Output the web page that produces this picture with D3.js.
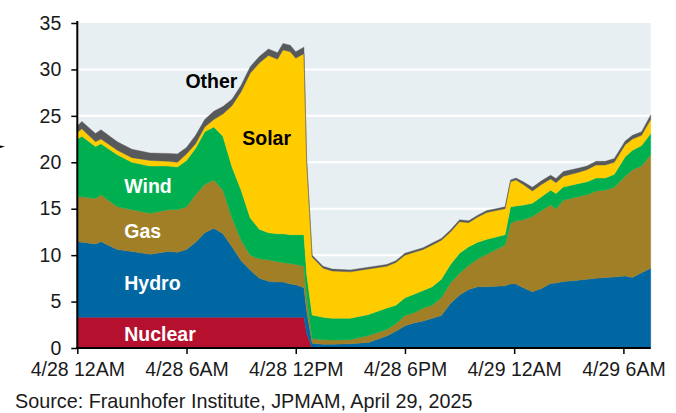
<!DOCTYPE html>
<html>
<head>
<meta charset="utf-8">
<script src="https://cdn.jsdelivr.net/npm/d3@7"></script>
<style>
  html, body { margin: 0; padding: 0; background: #ffffff; }
  svg { display: block; font-family: Arial, "Liberation Sans", sans-serif; }
</style>
</head>
<body>
<svg id="chart" width="676" height="413"></svg>
<script>
// Hours since 4/28 12AM
const hours = [0, 0.25, 1, 1.3, 2.2, 3, 4, 5, 5.5, 6, 6.5, 7, 7.5, 8, 8.5, 9, 9.5, 10, 10.5, 11, 11.3, 11.7, 12, 12.45, 12.6, 12.9, 13.5, 14, 15, 16, 17, 17.5, 18, 18.5, 19, 19.5, 20, 20.5, 21, 21.5, 22, 22.5, 23, 23.5, 23.8, 24.1, 24.5, 25, 25.5, 26, 26.3, 26.7, 27.5, 28, 28.5, 29, 29.5, 30.1, 30.5, 31, 31.5];

// Generation by source (GW)
const nuclear = [3.3, 3.3, 3.3, 3.3, 3.3, 3.3, 3.3, 3.3, 3.3, 3.3, 3.3, 3.3, 3.3, 3.3, 3.3, 3.3, 3.3, 3.3, 3.3, 3.3, 3.3, 3.3, 3.3, 3.3, 1.6, 0, 0, 0, 0, 0, 0, 0, 0, 0, 0, 0, 0, 0, 0, 0, 0, 0, 0, 0, 0, 0, 0, 0, 0, 0, 0, 0, 0, 0, 0, 0, 0, 0, 0, 0, 0];
const hydro = [8.15, 8.1, 7.9, 8.15, 7.3, 7.1, 6.8, 7.1, 7.0, 7.3, 8.1, 9.1, 9.6, 9.0, 7.6, 6.1, 5.1, 4.2, 3.9, 3.8, 3.8, 3.6, 3.5, 3.2, 2.4, 0.5, 0.4, 0.4, 0.45, 0.6, 1.3, 1.8, 2.4, 2.7, 2.9, 3.2, 3.5, 4.8, 5.7, 6.3, 6.6, 6.6, 6.65, 6.7, 6.9, 6.9, 6.5, 6.05, 6.4, 6.95, 7.0, 7.15, 7.3, 7.4, 7.5, 7.6, 7.65, 7.75, 7.6, 8.1, 8.6];
const gas = [4.85, 4.9, 4.9, 5.05, 4.6, 4.5, 4.4, 4.5, 4.6, 4.6, 5.1, 5.2, 5.2, 4.7, 3.1, 2.2, 1.6, 2.1, 2.3, 2.2, 2.1, 2.2, 2.2, 2.3, 1.5, 0.5, 0.5, 0.45, 0.45, 0.75, 0.7, 0.8, 1.1, 1.1, 1.4, 1.4, 1.9, 2.2, 2.35, 2.6, 3.0, 3.5, 3.95, 4.4, 6.5, 6.8, 7.3, 8.1, 8.4, 8.45, 8.0, 8.75, 9.0, 9.1, 9.4, 9.4, 9.65, 10.75, 11.6, 11.5, 12.2];
const wind = [6.2, 6.5, 5.6, 5.5, 5.6, 5.1, 5.1, 4.7, 4.6, 5.0, 5.0, 5.7, 5.7, 5.8, 5.5, 5.4, 4.0, 3.2, 2.9, 3.0, 3.1, 3.1, 3.2, 3.4, 2.5, 2.55, 2.4, 2.35, 2.3, 2.25, 2.3, 2.0, 1.9, 2.0, 1.9, 2.0, 2.0, 2.0, 2.15, 2.0, 1.8, 1.6, 1.35, 1.1, 1.8, 1.6, 1.6, 1.45, 1.5, 1.6, 1.65, 1.45, 1.4, 1.4, 1.4, 1.3, 1.4, 2.1, 2.1, 2.2, 2.3];
const solar = [0.7, 0.8, 0.5, 0.5, 0.5, 0.5, 0.6, 0.5, 0.5, 0.7, 0.5, 0.5, 0.8, 2.4, 6.6, 10.6, 15.6, 17.9, 19.1, 18.8, 19.8, 19.7, 19.0, 19.5, 12.0, 6.25, 5.3, 5.1, 5.0, 4.9, 4.5, 4.6, 4.6, 4.5, 4.4, 4.5, 4.2, 3.5, 3.4, 2.6, 2.7, 2.9, 2.85, 2.8, 2.7, 2.8, 2.2, 1.3, 1.3, 1.2, 1.15, 1.15, 1.2, 1.3, 1.4, 1.4, 1.3, 1.3, 1.2, 1.1, 1.5];
const other = [0.7, 0.8, 0.9, 1.0, 0.9, 0.9, 0.8, 0.85, 0.9, 0.7, 0.9, 0.8, 0.9, 0.8, 0.7, 0.7, 0.7, 0.7, 0.7, 0.7, 0.7, 0.7, 0.7, 0.7, 0.3, 0.2, 0.2, 0.2, 0.2, 0.2, 0.2, 0.2, 0.2, 0.2, 0.2, 0.2, 0.2, 0.2, 0.2, 0.2, 0.2, 0.2, 0.2, 0.2, 0.2, 0.2, 0.3, 0.4, 0.4, 0.4, 0.45, 0.5, 0.45, 0.4, 0.4, 0.4, 0.4, 0.4, 0.4, 0.4, 0.5];

const seriesKeys = ["nuclear", "hydro", "gas", "wind", "solar", "other"];
const seriesNames = ["Nuclear", "Hydro", "Gas", "Wind", "Solar", "Other"];
const seriesColors = ["#b5112f", "#0067a3", "#a07f26", "#00b050", "#ffcc00", "#58595b"];

const xTickValues = [0, 6, 12, 18, 24, 30];
const xTickLabels = ["4/28 12AM", "4/28 6AM", "4/28 12PM", "4/28 6PM", "4/29 12AM", "4/29 6AM"];
const yTickValues = [0, 5, 10, 15, 20, 25, 30, 35];

// Series label anchors in data units [hour, GW]
const labelHours = [2.58, 2.58, 2.58, 2.58, 10.4, 7.37];
const labelValues = [1.5, 6.97, 12.6, 17.4, 22.6, 28.7];
const labelAnchors = ["start", "start", "start", "start", "middle", "middle"];
const labelColors = ["#ffffff", "#ffffff", "#ffffff", "#ffffff", "#000000", "#000000"];

const sourceText = "Source: Fraunhofer Institute, JPMAM, April 29, 2025";

const table = hours.map((h, i) => ({
  h, nuclear: nuclear[i], hydro: hydro[i], gas: gas[i], wind: wind[i], solar: solar[i], other: other[i]
}));

const svg = d3.select("#chart");
const x = d3.scaleLinear().domain([0, 31.5]).range([77.3, 650.7]);
const y = d3.scaleLinear().domain([0, 35]).range([348, 23]);

// plot background
svg.append("rect")
  .attr("x", x(0)).attr("y", y(35))
  .attr("width", x(31.5) - x(0)).attr("height", y(0) - y(35))
  .attr("fill", "#e7eff2");

// grid lines
svg.append("g").selectAll("line")
  .data(yTickValues.filter(v => v > 0 && v < 35))
  .join("line")
  .attr("x1", x(0)).attr("x2", x(31.5))
  .attr("y1", d => y(d)).attr("y2", d => y(d))
  .attr("stroke", "#ffffff").attr("stroke-width", 2);

const stack = d3.stack().keys(seriesKeys);
const layers = stack(table);
const area = d3.area()
  .x(d => x(d.data.h))
  .y0(d => y(d[0]))
  .y1(d => y(d[1]))
  .curve(d3.curveLinear);

svg.append("g").selectAll("path")
  .data(layers)
  .join("path")
  .attr("d", area)
  .attr("fill", (d, i) => seriesColors[i])
  .attr("stroke", (d, i) => seriesColors[i])
  .attr("stroke-width", 0.4);

// series labels
svg.append("g").selectAll("text")
  .data(seriesNames)
  .join("text")
  .attr("x", (d, i) => x(labelHours[i]))
  .attr("y", (d, i) => y(labelValues[i]))
  .attr("dy", "0.35em")
  .attr("text-anchor", (d, i) => labelAnchors[i])
  .attr("fill", (d, i) => labelColors[i])
  .attr("font-weight", "bold")
  .attr("font-size", "19.5px")
  .text(d => d);

// Y axis
const yAxis = d3.axisLeft(y).tickValues(yTickValues).tickSize(6).tickPadding(10).tickFormat(d3.format("d"));
const gy = svg.append("g").attr("transform", `translate(${x(0)},0)`).call(yAxis);
gy.select(".domain").attr("stroke", "#000").attr("stroke-width", 2).attr("d", `M0,${y(35) - 2}V${y(0)}`);
gy.selectAll(".tick line").attr("stroke", "#000").attr("stroke-width", 1.5);
gy.selectAll(".tick text").attr("font-size", "19.5px").attr("fill", "#1a1a1a")
  .attr("font-family", "Arial, 'Liberation Sans', sans-serif");

// X axis
const xAxis = d3.axisBottom(x).tickValues(xTickValues).tickSize(6).tickPadding(8)
  .tickFormat((d, i) => xTickLabels[i]);
const gx = svg.append("g").attr("transform", `translate(0,${y(0)})`).call(xAxis);
gx.select(".domain").attr("stroke", "#000").attr("stroke-width", 2).attr("d", `M${x(0) - 1},0H${x(31.5)}`);
gx.selectAll(".tick line").attr("stroke", "#000").attr("stroke-width", 1.5);
gx.selectAll(".tick text").attr("font-size", "19.5px").attr("fill", "#1a1a1a")
  .attr("font-family", "Arial, 'Liberation Sans', sans-serif");

// small cut-off arrow at the left edge
svg.append("path").attr("d", "M0,145.5 L5,146.5 L0,148 Z").attr("fill", "#000");

// source
svg.append("text")
  .attr("x", 15).attr("y", 408)
  .attr("font-size", "19.8px").attr("fill", "#1a1a1a")
  .text(sourceText);
</script>
</body>
</html>
